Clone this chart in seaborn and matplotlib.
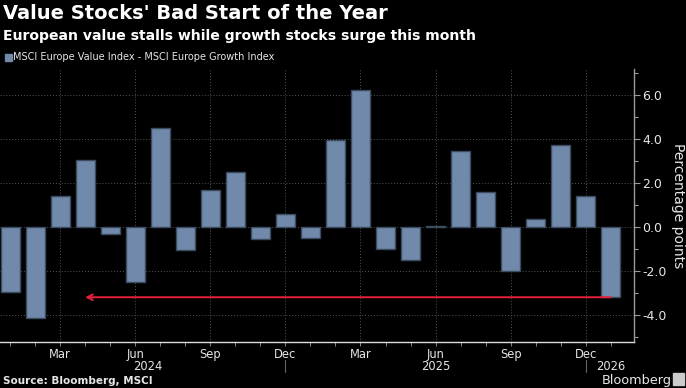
import numpy as np
import pandas as pd
import seaborn as sns
import matplotlib.pyplot as plt

# monthly spread, MSCI Europe Value minus MSCI Europe Growth (percentage points)
months = [
    "2024-01", "2024-02", "2024-03", "2024-04", "2024-05", "2024-06",
    "2024-07", "2024-08", "2024-09", "2024-10", "2024-11", "2024-12",
    "2025-01", "2025-02", "2025-03", "2025-04", "2025-05", "2025-06",
    "2025-07", "2025-08", "2025-09", "2025-10", "2025-11", "2025-12",
    "2026-01",
]
spread = [
    -2.95, -4.17, 1.41, 3.06, -0.32, -2.53,
    4.51, -1.05, 1.70, 2.51, -0.56, 0.59,
    -0.50, 3.95, 6.23, -1.00, -1.49, 0.06,
    3.47, 1.60, -2.03, 0.36, 3.74, 1.42,
    -3.21,
]
tick_labels = ["Mar", "Jun", "Sep", "Dec", "Mar", "Jun", "Sep", "Dec"]
tick_months = ["2024-03", "2024-06", "2024-09", "2024-12",
               "2025-03", "2025-06", "2025-09", "2025-12"]
year_labels = ["2024", "2025", "2026"]
year_pos = [5.5, 17.0, 24.0]

BAR = "#7189ab"
EDGE = "#3c4b5e"
RED = "#e8213a"
TXT = "#e6e6e6"

sns.set_theme(style="dark", rc={
    "figure.facecolor": "black",
    "axes.facecolor": "black",
    "axes.unicode_minus": False,
})
plt.rcParams["font.family"] = ["DejaVu Sans"]

df = pd.DataFrame({"month": months, "spread": spread})

fig = plt.figure(figsize=(6.86, 3.88), dpi=100)
ax = fig.add_axes([0.0, 0.1186, 0.924, 0.7036])

sns.barplot(data=df, x="month", y="spread", order=months, color=BAR,
            saturation=1, width=0.76, edgecolor=EDGE, linewidth=1, ax=ax)

ax.set_xlim(-0.4, len(months) - 0.08)
ax.set_ylim(-5.25, 7.2)

# y axis on the right
ax.yaxis.tick_right()
ax.yaxis.set_label_position("right")
yt = [-4, -2, 0, 2, 4, 6]
ax.set_yticks(yt, [f"{v:.1f}" for v in yt])
ax.set_yticks([-5, -3, -1, 1, 3, 5, 7], minor=True)
ax.tick_params(axis="y", which="both", right=True, left=False, direction="out",
               colors="#9a9a9a", labelcolor=TXT, labelsize=9, pad=2)
ax.tick_params(axis="y", which="major", length=4, width=0.8)
ax.tick_params(axis="y", which="minor", length=3, width=0.8)
ax.set_ylabel("Percentage points", color=TXT, fontsize=10, rotation=270,
              labelpad=13)

# x axis
tpos = [months.index(m) for m in tick_months]
ax.set_xticks(tpos, tick_labels)
ax.set_xticks(np.arange(len(months)), minor=True)
ax.tick_params(axis="x", which="both", bottom=True, direction="out",
               colors="#9a9a9a", labelcolor=TXT, labelsize=8.3, pad=1)
ax.tick_params(axis="x", which="major", length=3, width=0.6)
ax.tick_params(axis="x", which="minor", length=3, width=0.6)
ax.set_xlabel("")

for p, lab in zip(year_pos, year_labels):
    ax.text(p, -0.066, lab, transform=ax.get_xaxis_transform(), ha="center",
            va="top", color=TXT, fontsize=8.3)
for p in [11, 23]:
    ax.plot([p, p], [-0.066, -0.11], transform=ax.get_xaxis_transform(),
            color="#666666", lw=0.8, clip_on=False)

# grid
ax.grid(True, axis="both", which="major", color="#555555", ls=(0, (1, 2)),
        lw=0.7)
ax.set_axisbelow(True)

for s in ["top", "left"]:
    ax.spines[s].set_visible(False)
ax.spines["bottom"].set_color("#dddddd")
ax.spines["bottom"].set_linewidth(1)
ax.spines["right"].set_color("#9a9a9a")
ax.spines["right"].set_linewidth(1)

# red arrow back to Apr 2024
last = len(months) - 1
ax.annotate("", xy=(3, spread[-1]), xytext=(last, spread[-1]),
            arrowprops=dict(arrowstyle="->", color=RED, lw=1.4,
                            mutation_scale=10, shrinkA=0, shrinkB=0))

# titles and footers
fig.text(0.005, 0.965, "Value Stocks' Bad Start of the Year", color="white",
         fontsize=14, fontweight="bold", va="center", ha="left")
fig.text(0.005, 0.908, "European value stalls while growth stocks surge this month",
         color="white", fontsize=10.1, fontweight="bold", va="center", ha="left")
fig.patches.append(plt.Rectangle((0.008, 0.843), 0.009, 0.018, color=BAR,
                                 transform=fig.transFigure, figure=fig))
fig.text(0.019, 0.852, "MSCI Europe Value Index - MSCI Europe Growth Index",
         color=TXT, fontsize=7, va="center", ha="left")
fig.text(0.005, 0.018, "Source: Bloomberg, MSCI", color=TXT, fontsize=7.5,
         fontweight="bold", va="center", ha="left")
fig.text(0.979, 0.02, "Bloomberg", color=TXT, fontsize=9.3, va="center",
         ha="right")
fig.patches.append(plt.Rectangle((0.981, 0.008), 0.016, 0.03, color="#cccccc",
                                 transform=fig.transFigure, figure=fig))

fig.savefig("out.png", dpi=100, facecolor="black")
